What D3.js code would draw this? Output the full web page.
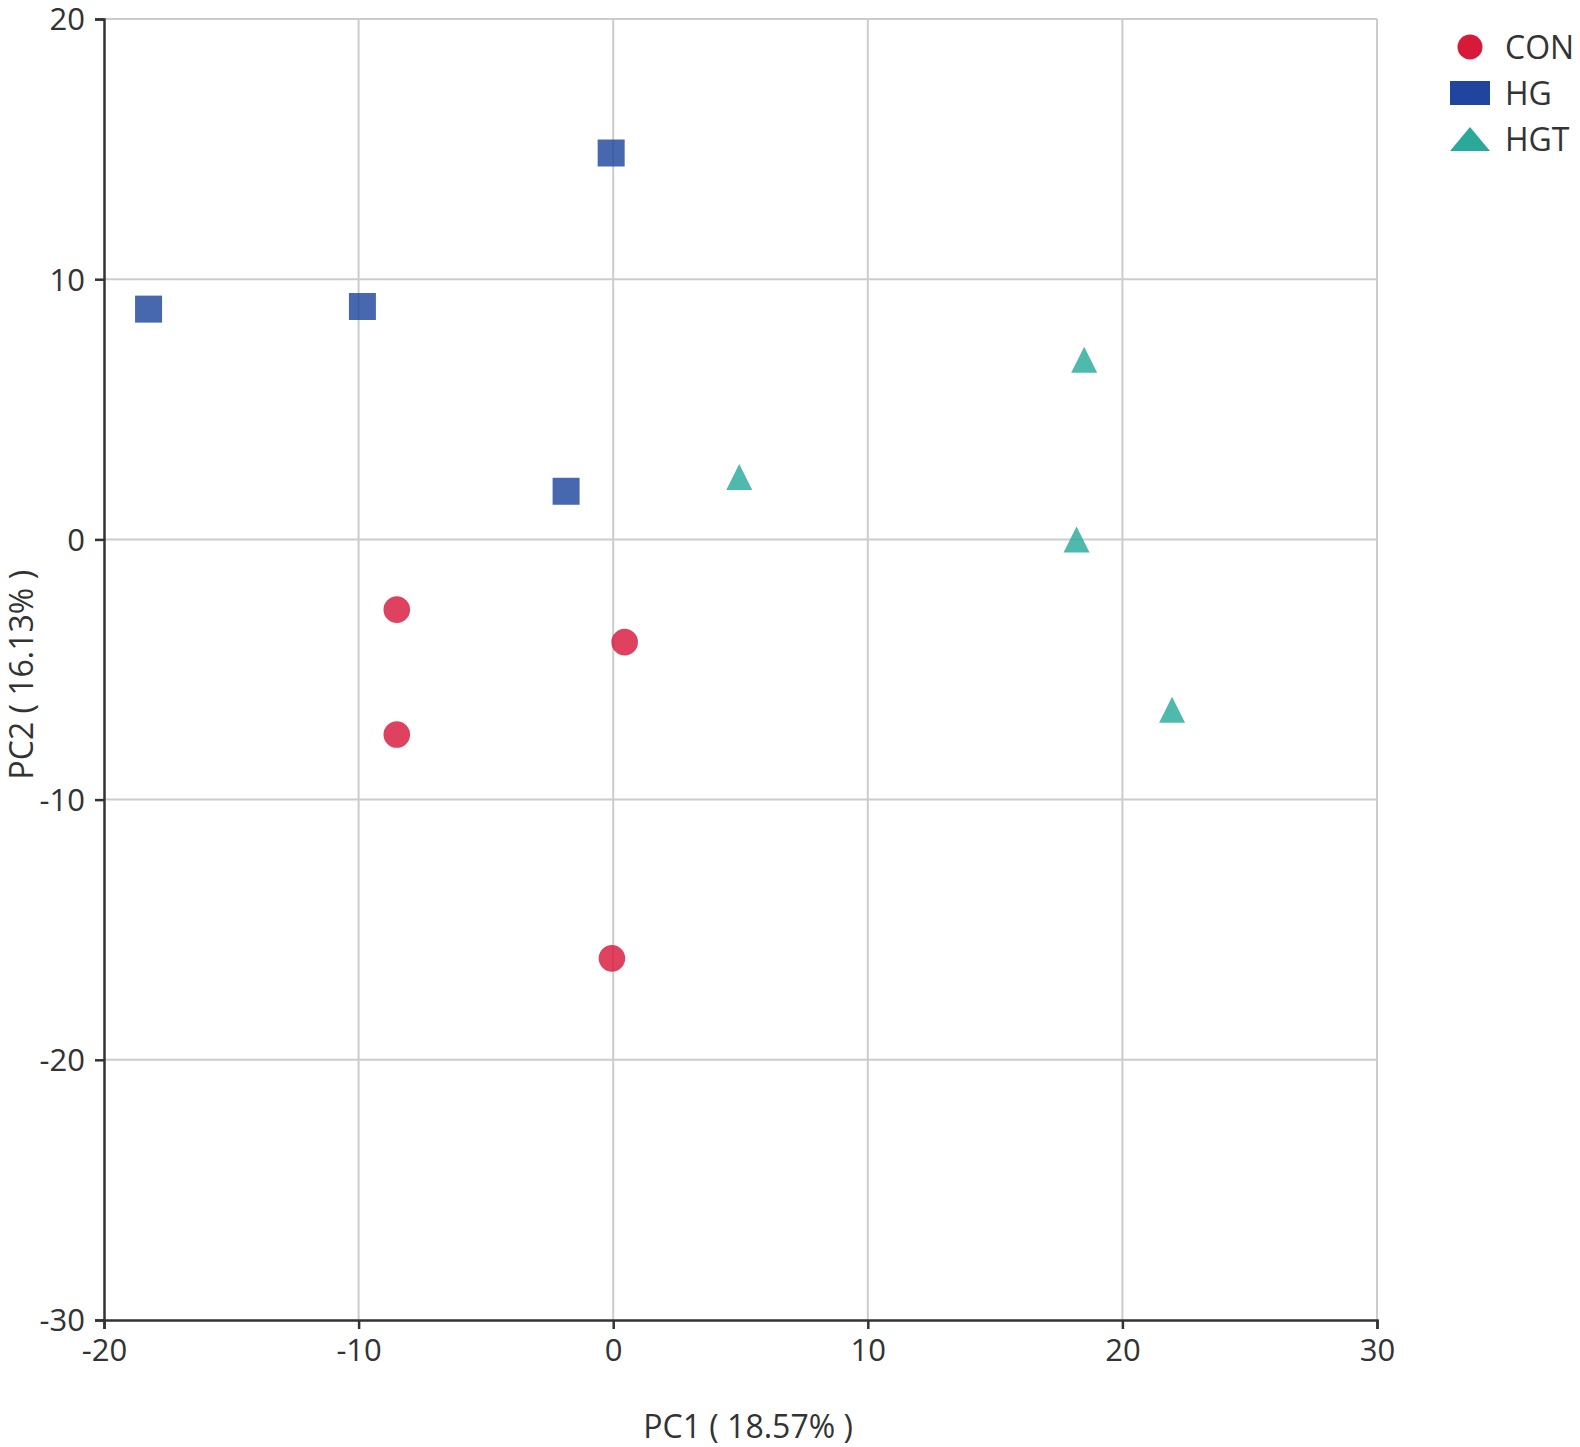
<!DOCTYPE html>
<html>
<head>
<meta charset="utf-8">
<script src="https://cdn.jsdelivr.net/npm/d3@7"></script>
<style>
  body { margin: 0; background: #fff; }
  text { font-family: "Open Sans", "Noto Sans", sans-serif; fill: #333; }
</style>
</head>
<body>
<svg id="pca" width="1580" height="1447"></svg>
<script>
// groups and sample scores
const groups = ["CON", "HG", "HGT"];
const conPC1 = [-8.5, 0.45, -8.5, -0.05];
const conPC2 = [-2.7, -3.95, -7.5, -16.1];
const hgPC1 = [-18.25, -9.85, -0.08, -1.85];
const hgPC2 = [8.85, 8.95, 14.85, 1.85];
const hgtPC1 = [18.5, 4.95, 18.2, 21.95];
const hgtPC2 = [6.9, 2.4, 0.0, -6.55];
const xTicks = [-20, -10, 0, 10, 20, 30];
const yTicks = [20, 10, 0, -10, -20, -30];

const svg = d3.select("svg#pca");
const margin = { top: 19, right: 203, bottom: 127, left: 104 };
const plotWidth = svg.attr("width") - margin.left - margin.right;
const plotHeight = svg.attr("height") - margin.top - margin.bottom;

const chart = svg.append("g")
  .attr("transform", `translate(${margin.left},${margin.top})`);

const xScale = d3.scaleLinear().domain([-20, 30]).range([0, plotWidth]);
const yScale = d3.scaleLinear().domain([-30, 20]).range([plotHeight, 0]);

const color = d3.scaleOrdinal().domain(groups).range(["#d7193a", "#1f459e", "#2aa99b"]);

// plain hyphen like the original labels
const fmt = d => String(d);

// gridlines
chart.append("g").attr("class", "grid")
  .selectAll("line").data(xTicks.filter(d => d > -20)).join("line")
  .attr("x1", d => xScale(d)).attr("x2", d => xScale(d))
  .attr("y1", 0).attr("y2", plotHeight)
  .attr("stroke", "#cccccc").attr("stroke-width", 2);
chart.append("g").attr("class", "grid")
  .selectAll("line").data(yTicks.filter(d => d > -30)).join("line")
  .attr("x1", 0).attr("x2", plotWidth)
  .attr("y1", d => yScale(d)).attr("y2", d => yScale(d))
  .attr("stroke", "#cccccc").attr("stroke-width", 2);

// axes
const xAxis = chart.append("g")
  .attr("transform", `translate(0,${plotHeight})`)
  .call(d3.axisBottom(xScale).tickValues(xTicks).tickFormat(fmt)
    .tickSizeOuter(0).tickSize(9).tickPadding(10));
const yAxis = chart.append("g")
  .call(d3.axisLeft(yScale).tickValues(yTicks).tickFormat(fmt)
    .tickSizeOuter(0).tickSize(9).tickPadding(10));

[xAxis, yAxis].forEach(ax => {
  ax.selectAll("path, line").attr("stroke", "#333").attr("stroke-width", 2.5);
  ax.selectAll("text").style("font-size", "31px").attr("fill", "#333");
});
yAxis.selectAll("text").attr("dy", "0.35em");

// points
function makeRows(name, xs, ys) {
  return xs.map((x, i) => ({ group: name, pc1: x, pc2: ys[i] }));
}
const points = [].concat(
  makeRows("CON", conPC1, conPC2),
  makeRows("HG", hgPC1, hgPC2),
  makeRows("HGT", hgtPC1, hgtPC2)
);

// triangle in a box centred on the point
function triPath(w, h) {
  return `M0,${-h / 2}L${w / 2},${h / 2}L${-w / 2},${h / 2}Z`;
}
const symbolGen = d => {
  if (d.group === "CON") return d3.symbol(d3.symbolCircle, Math.PI * 13.3 * 13.3)();
  if (d.group === "HG") return d3.symbol(d3.symbolSquare, 27 * 27)();
  return triPath(26, 26);
};

chart.append("g").attr("class", "points")
  .selectAll("path").data(points).join("path")
  .attr("d", symbolGen)
  .attr("transform", d => `translate(${xScale(d.pc1)},${yScale(d.pc2)})`)
  .attr("fill", d => color(d.group))
  .attr("opacity", 0.82);

// axis titles
svg.append("text")
  .attr("x", margin.left + xScale(5.3))
  .attr("y", 1438)
  .attr("text-anchor", "middle")
  .style("font-size", "32px")
  .text("PC1 ( 18.57% )");

svg.append("text")
  .attr("transform", `translate(33,${margin.top + yScale(-5.2)}) rotate(-90)`)
  .attr("text-anchor", "middle")
  .style("font-size", "32px")
  .text("PC2 ( 16.13% )");

// legend
const legend = svg.selectAll(".legend").data(groups).join("g")
  .attr("class", "legend")
  .attr("transform", (d, i) => `translate(1470,${47 + i * 46})`);

legend.append("path")
  .attr("d", d => {
    if (d === "CON") return d3.symbol(d3.symbolCircle, Math.PI * 12.5 * 12.5)();
    if (d === "HG") return "M-20,-12H20V12H-20Z";
    return triPath(40, 24);
  })
  .attr("fill", d => color(d));

legend.append("text")
  .attr("x", 35)
  .attr("dy", "0.36em")
  .style("font-size", "32px")
  .text(d => d);
</script>
</body>
</html>
